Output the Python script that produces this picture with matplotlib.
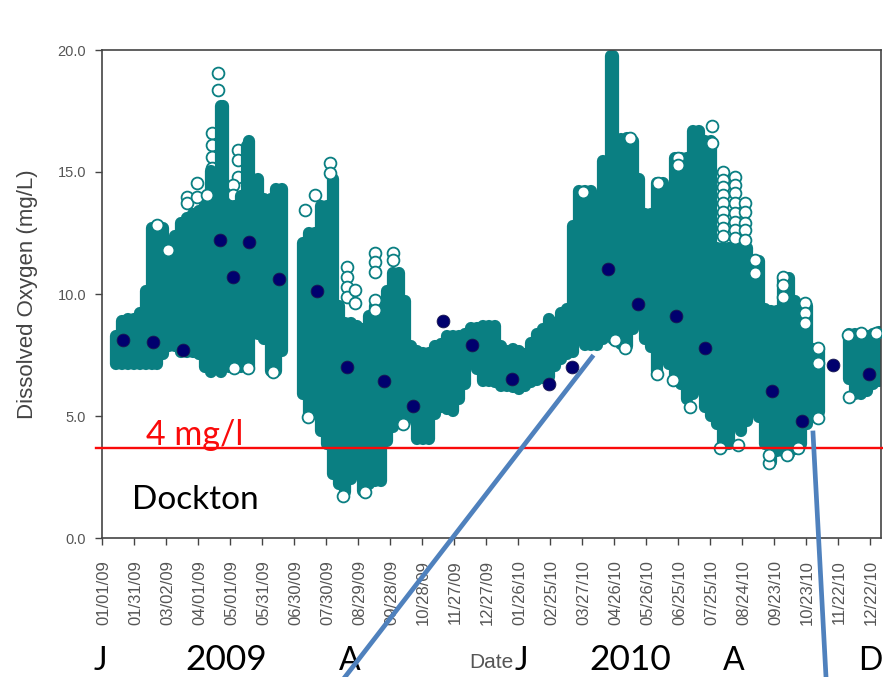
import matplotlib
matplotlib.use("Agg")
import matplotlib.pyplot as plt
from matplotlib.lines import Line2D
from matplotlib.transforms import ScaledTranslation

W, H = 883, 677
TEAL = "#0A7F82"
NAVY = "#00006E"
GREY = "#444444"
BLUE = "#4F81BD"
RED = "#FA0A0A"

tick_labels = ["01/01/09","01/31/09","03/02/09","04/01/09","05/01/09","05/31/09","06/30/09",
               "07/30/09","08/29/09","09/28/09","10/28/09","11/27/09","12/27/09","01/26/10",
               "02/25/10","03/27/10","04/26/10","05/26/10","06/25/10","07/25/10","08/24/10",
               "09/23/10","10/23/10","11/22/10","12/22/10"]

# Range of the continuous record: day since 01/01/09, highest and lowest reading (mg/L)
cloud_days = [13,19,24,30,36,41,47,52,57,63,68,74,80,85,91,97,102,112,113,119,125,130,136,138,146,152,158,163,169,
              188,194,200,205,211,217,222,228,233,239,245,250,256,262,267,273,278,284,290,295,301,307,312,318,323,329,335,340,346,352,357,363,
              368,374,380,385,391,397,402,408,413,419,425,430,436,442,447,453,458,464,470,477,479,487,492,498,503,509,515,520,526,532,537,543,548,554,560,565,571,577,582,588,593,599,605,610,616,622,627,633,638,644,650,655,661,667,672,
              700,706,712,717,723,728]
cloud_high = [8.28,8.89,8.98,8.98,9.22,10.12,12.70,12.79,12.70,11.68,12.38,12.91,13.11,13.28,13.40,13.73,15.04,17.70,17.70,13.61,13.61,14.02,16.07,16.27,14.71,13.89,13.89,14.30,14.30,
              12.09,12.50,12.50,13.61,13.61,14.71,9.51,8.81,8.81,8.69,8.57,9.10,9.51,9.10,10.12,10.86,10.86,9.71,7.87,7.66,7.58,7.58,7.87,7.95,8.28,8.28,8.28,8.36,8.61,8.61,8.69,8.69,
              8.69,7.87,7.66,7.75,7.66,7.54,7.99,8.36,8.57,8.98,8.81,9.22,9.39,12.79,14.22,14.22,14.22,13.11,15.45,19.75,19.75,16.35,16.39,16.27,14.71,13.28,13.28,14.55,14.55,12.91,15.57,15.57,15.57,16.68,16.68,16.27,16.27,11.9,11.9,11.9,11.9,11.9,11.9,11.35,11.35,9.39,9.30,9.30,10.66,10.66,9.71,9.51,9.51,7.75,7.75,
              8.36,8.36,8.28,8.28,8.36,8.44]
cloud_low = [7.13,7.13,7.13,7.13,7.13,7.13,7.13,7.13,7.54,7.87,7.87,7.62,7.62,7.62,7.54,7.01,6.80,6.80,7.13,7.01,7.01,7.01,7.01,7.01,8.36,8.16,6.84,6.84,7.66,
             5.90,5.08,5.70,4.39,3.85,2.62,2.21,1.89,2.42,2.62,1.93,2.21,2.34,2.34,3.98,4.55,4.75,4.75,4.96,4.06,4.06,4.06,5.08,5.37,5.29,5.20,5.70,6.31,7.34,6.93,6.43,6.43,
             6.39,6.23,6.23,6.19,6.11,6.23,6.39,6.48,6.56,6.60,7.05,7.34,7.54,7.62,8.16,7.91,7.91,7.91,8.16,8.57,8.16,7.95,7.87,8.57,8.98,8.16,7.83,6.80,7.34,7.13,6.60,6.31,5.70,5.90,6.19,5.37,5.00,4.67,3.77,3.85,5.08,4.39,4.80,5.20,4.96,3.85,3.11,3.57,3.57,3.44,3.65,3.85,4.67,4.96,5.16,
             6.52,5.90,5.90,6.02,6.31,6.43]

# Individual open circles partly hidden by the record behind them
behind_days = [103,103,103,103,127.5,127.5,127.5,123,123]
behind_vals = [16.6,16.11,15.61,15.16,15.90,15.49,14.80,14.47,14.06]

# Readings that stand apart as individual open circles
outlier_days = [109,109,80,80,89,89,98,62,52,190,200,214,214,
                230,230,230,230,237,237,256,256,256,256,256,273,273,
                124,137,160,193,226,247,282,520,535,596,579,625,625,642,652.5,671,700,551,490,481,
                572,572,540,540,521,495,451,
                582,582,582,582,582,582,582,582,582,
                593,593,593,593,593,593,593,593,
                603,603,603,603,603,612,612,
                638,638,638,659,659,659,671,671,699,712,726]
outlier_vals = [19.06,18.36,13.98,13.73,14.55,13.98,14.06,11.80,12.83,13.44,14.06,15.37,14.96,
                11.11,10.70,10.29,9.88,10.16,9.63,11.68,11.31,10.90,9.75,9.34,11.68,11.39,
                6.97,6.97,6.80,4.96,1.72,1.89,4.67,6.72,6.48,3.81,3.69,3.07,3.40,3.40,3.69,4.92,5.78,5.37,7.79,8.11,
                16.89,16.19,15.57,15.29,14.55,16.39,14.18,
                15.0,14.67,14.39,14.06,13.73,13.36,13.03,12.70,12.38,
                14.80,14.47,14.14,13.73,13.32,12.95,12.62,12.30,
                13.73,13.36,12.91,12.62,12.21,11.39,10.86,
                10.70,10.37,9.88,9.63,9.22,8.81,7.79,7.17,8.32,8.40,8.40]

# Monthly grab samples
sample_days = [19.7,47.8,75.9,110.6,122.8,137.8,165.9,201.6,229.7,264.4,291.6,319.7,346.9,384.4,419.1,440.6,
               474.4,502.5,538.1,565.3,628.1,656.2,685.3,719.1]
sample_vals = [8.11,8.03,7.70,12.21,10.70,12.13,10.61,10.12,7.01,6.43,5.41,8.89,7.91,6.52,6.31,7.01,
               11.02,9.59,9.10,7.79,6.02,4.80,7.09,6.72]

threshold = 3.7
month_letters = [("J",100),("A",350),("J",521),("A",734),("D",870)]
year_labels = [("2009",226),("2010",630)]

fig = plt.figure(figsize=(W/100, H/100), dpi=100, facecolor="white")
ax = fig.add_axes([102/W, (H-538)/H, (881-102)/W, (538-50)/H])
ax.set_xlim(0, 730.3)
ax.set_ylim(0, 20)

ax.plot(behind_days, behind_vals, ls="none", marker="o", ms=8.5, mew=1.3, mec=TEAL, mfc="white", zorder=1)
ax.vlines(cloud_days, cloud_low, cloud_high, colors=TEAL, linewidth=8.8, capstyle="round", zorder=2)
ax.plot(outlier_days, outlier_vals, ls="none", marker="o", ms=8.5, mew=1.3, mec=TEAL, mfc="white", zorder=3)
ax.plot(sample_days, sample_vals, ls="none", marker="o", ms=9.2, mew=0.6, mec="#1a1a50", mfc=NAVY, zorder=4)
ax.plot([-5.6, 733], [threshold, threshold], color=RED, lw=1.7, clip_on=False, zorder=5)

for s in ax.spines.values():
    s.set_color(GREY)
    s.set_linewidth(1.2)
ax.set_xticks([30*i for i in range(len(tick_labels))])
ax.set_xticklabels(tick_labels, rotation=90, family="Liberation Sans", fontsize=12, color="#555555")
ax.set_yticks([0, 5, 10, 15, 20])
ax.set_yticklabels(["0.0", "5.0", "10.0", "15.0", "20.0"], family="Liberation Sans", fontsize=10.5, color="#555555")
ax.tick_params(axis="x", length=5, width=1, color=GREY, pad=11)
ax.tick_params(axis="y", length=5, width=1, color=GREY, pad=6.5)
shift = ScaledTranslation(1.5/100, 0, fig.dpi_scale_trans)
for lab in ax.get_xticklabels():
    lab.set_transform(lab.get_transform() + shift)

def T(x, y, s, **kw):
    fig.text(x/W, 1-y/H, s, **kw)

T(28, 294, "Dissolved Oxygen (mg/L)", rotation=90, ha="center", va="center",
  family="Liberation Sans", fontsize=16, color="#444444")
T(491, 662, "Date", ha="center", va="center", family="Liberation Sans", fontsize=15, color="#555555")
T(146, 445, "4 mg/l", ha="left", va="baseline", family="Lato", fontsize=24.5, color=RED, zorder=6)
T(132, 509, "Dockton", ha="left", va="baseline", family="Lato", fontsize=24, color="black", zorder=6)
for s, x in month_letters:
    T(x, 670, s, ha="center", va="baseline", family="Lato", fontsize=23, color="black")
for s, x in year_labels:
    T(x, 670, s, ha="center", va="baseline", family="Lato", fontsize=25.5, color="black")

for (x0, y0, x1, y1) in [(592, 357, 345, 677), (813, 433, 826, 677)]:
    fig.add_artist(Line2D([x0/W, x1/W], [1-y0/H, 1-y1/H], color=BLUE, lw=3.4,
                          transform=fig.transFigure, zorder=7))

fig.savefig("out.png", dpi=100)
